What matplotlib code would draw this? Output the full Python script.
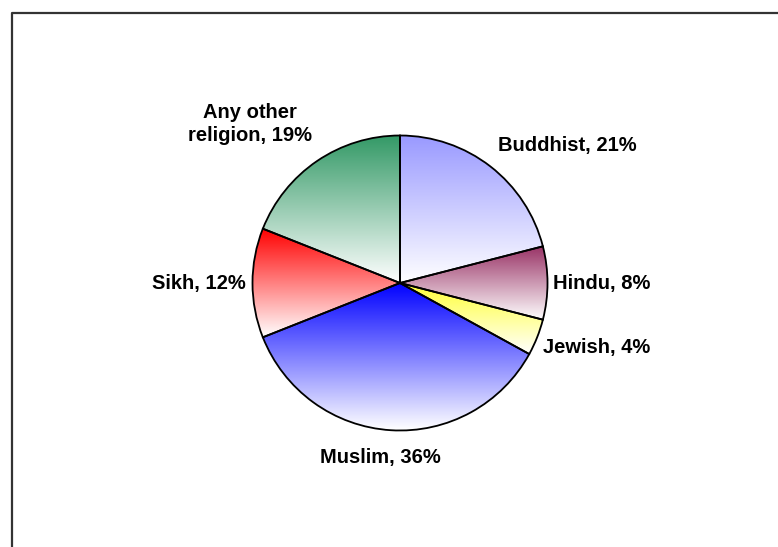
import numpy as np
import matplotlib
matplotlib.use("Agg")
import matplotlib.pyplot as plt
from matplotlib.colors import LinearSegmentedColormap, to_rgb
from matplotlib.lines import Line2D

# Religion breakdown (percent)
categories = ["Buddhist", "Hindu", "Jewish", "Muslim", "Sikh", "Any other\nreligion"]
shares = [21, 8, 4, 36, 12, 19]
slice_colors = ["#9999FF", "#993366", "#FFFF33", "#0000FF", "#FF0000", "#339966"]

# label anchor points (pixel-style coordinates, y measured upward)
label_pos = [(567, 401), (602, 263), (597, 200), (380, 89), (199, 263), (250, 423)]

W, H = 778, 547
fig = plt.figure(figsize=(W / 100, H / 100), dpi=100)
ax = fig.add_axes([0, 0, 1, 1])

cx, cy, r = 400, 264, 147.5

wedges, _ = ax.pie(shares, startangle=90, counterclock=False, center=(cx, cy),
                   radius=r, wedgeprops=dict(facecolor="none", edgecolor="black",
                                             linewidth=1.3, zorder=3))
ax.set_xlim(0, W)
ax.set_ylim(0, H)
ax.set_aspect("equal")
ax.axis("off")

# vertical colour-to-white gradient inside each slice
for w, col in zip(wedges, slice_colors):
    t = np.radians(np.linspace(w.theta1, w.theta2, 200))
    xs = np.concatenate([[cx], cx + r * np.cos(t)])
    ys = np.concatenate([[cy], cy + r * np.sin(t)])
    x0, x1, y0, y1 = xs.min(), xs.max(), ys.min(), ys.max()
    cmap = LinearSegmentedColormap.from_list("g", [(1, 1, 1), to_rgb(col)])
    grad = np.linspace(1, 0, 256).reshape(-1, 1)
    im = ax.imshow(grad, cmap=cmap, vmin=0, vmax=1, aspect="auto",
                   extent=(x0, x1, y0, y1), origin="upper", zorder=2,
                   interpolation="bilinear")
    im.set_clip_path(w)

for name, val, (lx, ly) in zip(categories, shares, label_pos):
    ax.text(lx, ly, f"{name}, {val}%", ha="center", va="center",
            fontsize=14.5, fontweight="bold", family="Liberation Sans",
            linespacing=1.25, zorder=4)

# chart-area frame (left and top edges)
fx0, fy0 = 11.5 / W, 1 - 12.5 / H
fig.add_artist(Line2D([fx0, fx0, 1.0], [0.0, fy0, fy0], transform=fig.transFigure,
                      color="#333333", linewidth=1.6))

fig.savefig("out.png", dpi=100)
